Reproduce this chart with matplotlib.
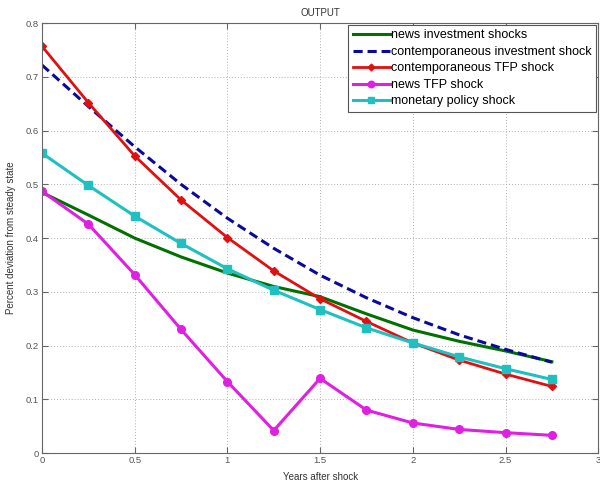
import numpy as np
import matplotlib.pyplot as plt

plt.rcParams['font.family'] = ['Liberation Sans', 'DejaVu Sans']

# anys despres del xoc (trimestral)
anys = [0, 0.25, 0.5, 0.75, 1.0, 1.25, 1.5, 1.75, 2.0, 2.25, 2.5, 2.75]

news_inv = [0.485, 0.443, 0.400, 0.365, 0.335, 0.310, 0.291, 0.259, 0.229, 0.208, 0.190, 0.170]
cont_inv = [0.722, 0.645, 0.570, 0.500, 0.437, 0.381, 0.331, 0.289, 0.252, 0.220, 0.193, 0.169]
cont_tfp = [0.757, 0.652, 0.553, 0.471, 0.401, 0.339, 0.287, 0.245, 0.205, 0.173, 0.147, 0.124]
news_tfp = [0.487, 0.426, 0.332, 0.230, 0.133, 0.042, 0.139, 0.080, 0.056, 0.044, 0.038, 0.033]
monetary = [0.558, 0.498, 0.441, 0.390, 0.343, 0.303, 0.267, 0.233, 0.205, 0.179, 0.157, 0.137]

etiquetes = ['news investment shocks', 'contemporaneous investment shock',
             'contemporaneous TFP shock', 'news TFP shock', 'monetary policy shock']

fig = plt.figure(figsize=(6, 4.82), dpi=100)
ax = fig.add_axes([0.07, 0.06, 0.927, 0.892])

ax.plot(anys, news_inv, color='#007000', lw=2.2, label=etiquetes[0])
ax.plot(anys, cont_inv, color='#0a0a9a', lw=2.2, ls=(0, (3, 1.6)), label=etiquetes[1])
ax.plot(anys, cont_tfp, color='#e01010', lw=2.0, marker='D', ms=4, label=etiquetes[2])
ax.plot(anys, news_tfp, color='#e020e0', lw=2.2, marker='o', ms=5.5, label=etiquetes[3])
ax.plot(anys, monetary, color='#20c0c0', lw=2.2, marker='s', ms=5.5, label=etiquetes[4])

ax.set_xlim(0, 3)
ax.set_ylim(0, 0.8)
ax.set_xticks(np.arange(0, 3.01, 0.5))
ax.set_xticklabels(['0', '0.5', '1', '1.5', '2', '2.5', '3'])
ax.set_yticks(np.arange(0, 0.81, 0.1))
ax.set_yticklabels(['0', '0.1', '0.2', '0.3', '0.4', '0.5', '0.6', '0.7', '0.8'])
ax.tick_params(direction='in', labelsize=6.8, labelcolor='#555555', color='#666666',
               top=True, right=True, length=4, pad=2)
ax.grid(True, ls=(0, (1, 2)), color='#b0b0b0', lw=0.7)
for s in ax.spines.values():
    s.set_color('#666666')

ax.set_title('OUTPUT', fontsize=7, color='#333333', pad=5)
ax.set_xlabel('Years after shock', fontsize=7, color='#333333', labelpad=5)
ax.set_ylabel('Percent deviation from steady state', fontsize=7, color='#333333', labelpad=7)

leg = ax.legend(loc='upper right', fontsize=9, handlelength=3.0, handletextpad=0.1,
                borderaxespad=0.15, labelspacing=0.36, fancybox=False, framealpha=1,
                borderpad=0.35, markerscale=0.85)
leg.get_frame().set_edgecolor('#555555')
leg.get_frame().set_linewidth(0.8)

fig.savefig('out.png', dpi=100)
